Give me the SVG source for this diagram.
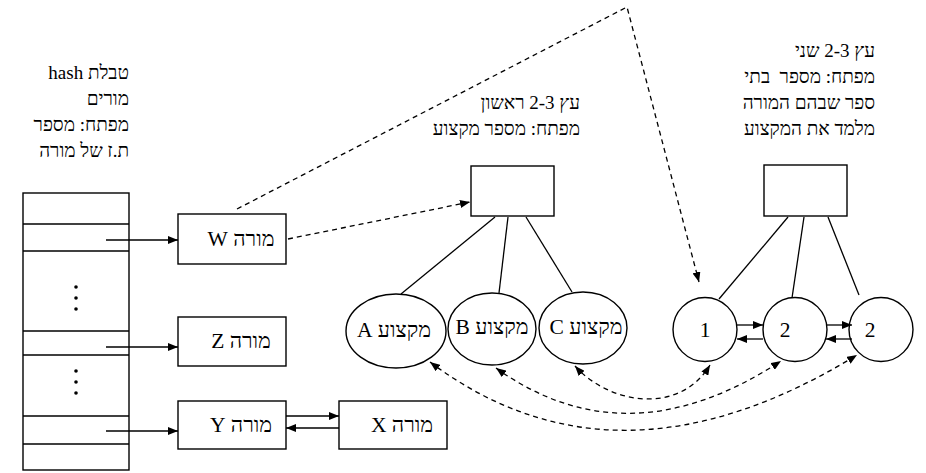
<svg xmlns="http://www.w3.org/2000/svg" width="926" height="473" viewBox="0 0 926 473">
<defs>
<style>
.bx{fill:#fff;stroke:#000;stroke-width:1.4}
.ln{fill:none;stroke:#000;stroke-width:1.3}
.ds{fill:none;stroke:#000;stroke-width:1.3;stroke-dasharray:5,4}
.lbl{font-family:"Liberation Serif","DejaVu Sans",serif;font-size:21.5px;fill:#000}
.hd{font-family:"Liberation Serif","DejaVu Sans",serif;font-size:19px;fill:#000;white-space:pre}
.dot{fill:#000}
</style>
<marker id="ah" viewBox="0 0 10 8" refX="10" refY="4" markerWidth="10" markerHeight="8" markerUnits="userSpaceOnUse" orient="auto-start-reverse"><path d="M0,0 L10,4 L0,8 z" fill="#000"/></marker>
</defs>
<rect width="926" height="473" fill="#fff"/>

<g id="hash-title">
<text class="hd" direction="rtl" text-anchor="start" x="129" y="79">טבלת hash</text>
<text class="hd" direction="rtl" text-anchor="start" x="129" y="105">מורים</text>
<text class="hd" direction="rtl" text-anchor="start" x="129" y="131">מפתח: מספר</text>
<text class="hd" direction="rtl" text-anchor="start" x="129" y="157">ת.ז של מורה</text>
</g>

<g id="hash-table">
<rect class="bx" x="23" y="193" width="106" height="277"/>
<line class="ln" x1="23" y1="224" x2="129" y2="224"/>
<line class="ln" x1="23" y1="251" x2="129" y2="251"/>
<line class="ln" x1="23" y1="331" x2="129" y2="331"/>
<line class="ln" x1="23" y1="355" x2="129" y2="355"/>
<line class="ln" x1="23" y1="416" x2="129" y2="416"/>
<line class="ln" x1="23" y1="444" x2="129" y2="444"/>
<circle class="dot" cx="76" cy="287" r="1.8"/>
<circle class="dot" cx="76" cy="298" r="1.8"/>
<circle class="dot" cx="76" cy="309" r="1.8"/>
<circle class="dot" cx="76" cy="371" r="1.8"/>
<circle class="dot" cx="76" cy="382" r="1.8"/>
<circle class="dot" cx="76" cy="393" r="1.8"/>
</g>

<g id="teacher-W">
<rect class="bx" x="178" y="214" width="108" height="50"/>
<text class="lbl" direction="rtl" text-anchor="middle" x="241" y="246">מורה W</text>
</g>
<g id="teacher-Z">
<rect class="bx" x="178" y="317" width="108" height="49"/>
<text class="lbl" direction="rtl" text-anchor="middle" x="241" y="348">מורה Z</text>
</g>
<g id="teacher-Y">
<rect class="bx" x="178" y="401" width="108" height="48"/>
<text class="lbl" direction="rtl" text-anchor="middle" x="241" y="432">מורה Y</text>
</g>
<g id="teacher-X">
<rect class="bx" x="339" y="401" width="108" height="48"/>
<text class="lbl" direction="rtl" text-anchor="middle" x="402" y="432">מורה X</text>
</g>

<g id="tree1-title">
<text class="hd" direction="rtl" text-anchor="start" x="580" y="109">עץ 2-3 ראשון</text>
<text class="hd" direction="rtl" text-anchor="start" x="580" y="135">מפתח: מספר מקצוע</text>
</g>
<g id="tree1-root">
<rect class="bx" x="471" y="166" width="83" height="50"/>
</g>
<g id="subject-A">
<ellipse class="bx" cx="396" cy="331" rx="50" ry="37"/>
<text class="lbl" direction="rtl" text-anchor="middle" x="394" y="337">מקצוע A</text>
</g>
<g id="subject-B">
<ellipse class="bx" cx="492" cy="329" rx="44" ry="36"/>
<text class="lbl" direction="rtl" text-anchor="middle" x="492" y="334">מקצוע B</text>
</g>
<g id="subject-C">
<ellipse class="bx" cx="583" cy="328" rx="44" ry="36"/>
<text class="lbl" direction="rtl" text-anchor="middle" x="586" y="334">מקצוע C</text>
</g>

<g id="tree2-title">
<text class="hd" direction="rtl" text-anchor="start" x="875" y="57">עץ 2-3 שני</text>
<text class="hd" direction="rtl" text-anchor="start" x="875" y="83">מפתח: מספר  בתי</text>
<text class="hd" direction="rtl" text-anchor="start" x="875" y="109">ספר שבהם המורה</text>
<text class="hd" direction="rtl" text-anchor="start" x="875" y="135">מלמד את המקצוע</text>
</g>
<g id="tree2-root">
<rect class="bx" x="764" y="165" width="83" height="51"/>
</g>
<g id="school-1">
<circle class="bx" cx="705" cy="329.5" r="32"/>
<text class="lbl" text-anchor="middle" x="705" y="337">1</text>
</g>
<g id="school-2a">
<circle class="bx" cx="795" cy="329.5" r="32"/>
<text class="lbl" text-anchor="middle" x="785" y="337">2</text>
</g>
<g id="school-2b">
<circle class="bx" cx="881" cy="329.5" r="32"/>
<text class="lbl" text-anchor="middle" x="870" y="337">2</text>
</g>

<g id="connectors">
<line class="ln" x1="106" y1="240" x2="178" y2="240" marker-end="url(#ah)"/>
<line class="ln" x1="106" y1="347" x2="178" y2="347" marker-end="url(#ah)"/>
<line class="ln" x1="106" y1="431" x2="178" y2="431" marker-end="url(#ah)"/>
<line class="ln" x1="286" y1="416" x2="339" y2="416" marker-end="url(#ah)"/>
<line class="ln" x1="339" y1="428" x2="286" y2="428" marker-end="url(#ah)"/>

<line class="ln" x1="495" y1="217" x2="401" y2="294"/>
<line class="ln" x1="508" y1="217" x2="499" y2="293"/>
<line class="ln" x1="526" y1="217" x2="572" y2="292"/>

<line class="ln" x1="788" y1="217" x2="719" y2="299"/>
<line class="ln" x1="804" y1="217" x2="792" y2="298"/>
<line class="ln" x1="828" y1="217" x2="859" y2="295"/>

<line class="ln" x1="737" y1="325" x2="763" y2="325" marker-end="url(#ah)"/>
<line class="ln" x1="763" y1="339" x2="737" y2="339" marker-end="url(#ah)"/>
<line class="ln" x1="826" y1="325" x2="852" y2="325" marker-end="url(#ah)"/>
<line class="ln" x1="852" y1="339" x2="826" y2="339" marker-end="url(#ah)"/>

<line class="ds" x1="288" y1="239" x2="470" y2="202" marker-end="url(#ah)"/>
<polyline class="ds" points="237,209 627,7 699,282" marker-end="url(#ah)"/>

<path class="ds" d="M575,366 C610,405 680,415 710,365" marker-start="url(#ah)" marker-end="url(#ah)"/>
<path class="ds" d="M496,368 Q627,462 781,361" marker-start="url(#ah)" marker-end="url(#ah)"/>
<path class="ds" d="M430,362 Q617,502 857,355" marker-start="url(#ah)" marker-end="url(#ah)"/>
</g>
</svg>
